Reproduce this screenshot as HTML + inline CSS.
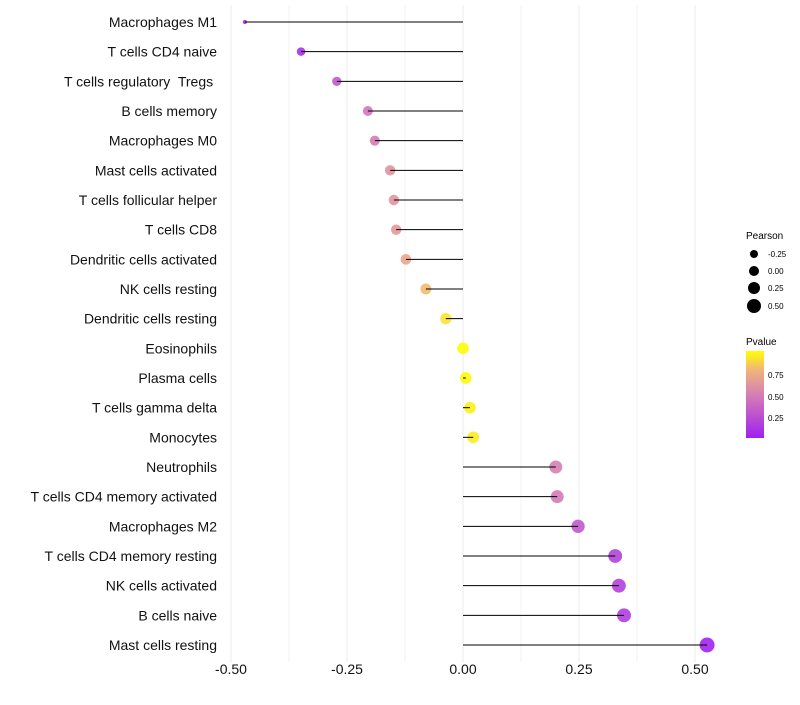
<!DOCTYPE html>
<html><head><meta charset="utf-8"><style>
body{margin:0;background:#fff;font-family:"Liberation Sans",sans-serif}
text{white-space:pre}
</style></head><body>
<svg id="chart" width="800" height="700" xmlns="http://www.w3.org/2000/svg" font-family="Liberation Sans, sans-serif">
<defs><linearGradient id="pg" x1="0" y1="1" x2="0" y2="0">
<stop offset="0" stop-color="#A020F0"/><stop offset="0.5" stop-color="#D67FB4"/><stop offset="0.78" stop-color="#F0B47C"/><stop offset="1" stop-color="#FFFF00"/></linearGradient></defs>
<g id="grid"></g><g id="marks"></g><g id="labels"></g>
<g>
<text x="746" y="239" font-size="10">Pearson</text>
<circle cx="754" cy="254" r="4"/><text x="768" y="257" font-size="8">-0.25</text>
<circle cx="754" cy="271" r="5"/><text x="768" y="274" font-size="8">0.00</text>
<circle cx="754" cy="288" r="6"/><text x="768" y="291" font-size="8">0.25</text>
<circle cx="754" cy="306" r="7"/><text x="768" y="309" font-size="8">0.50</text>
<text x="746" y="345" font-size="10">Pvalue</text>
<rect x="746" y="351" width="18" height="87" fill="url(#pg)"/>
<text x="768" y="378" font-size="8">0.75</text><text x="768" y="400" font-size="8">0.50</text><text x="768" y="421" font-size="8">0.25</text>
</g>
</svg>
<script>
const categories=["Macrophages M1","T cells CD4 naive","T cells regulatory  Tregs ","B cells memory","Macrophages M0","Mast cells activated","T cells follicular helper","T cells CD8","Dendritic cells activated","NK cells resting","Dendritic cells resting","Eosinophils","Plasma cells","T cells gamma delta","Monocytes","Neutrophils","T cells CD4 memory activated","Macrophages M2","T cells CD4 memory resting","NK cells activated","B cells naive","Mast cells resting"];
const pearson=[-0.47,-0.349,-0.272,-0.205,-0.19,-0.157,-0.149,-0.144,-0.123,-0.08,-0.037,0.0,0.006,0.015,0.022,0.2,0.203,0.248,0.328,0.336,0.347,0.526];
const pvalues=[0.02,0.08,0.3,0.45,0.48,0.6,0.62,0.63,0.7,0.8,0.92,0.99,0.98,0.96,0.94,0.5,0.48,0.3,0.18,0.17,0.15,0.02];
const xTicks=[-0.5,-0.25,0,0.25,0.5];
const xTickLabels=["-0.50","-0.25","0.00","0.25","0.50"];
const NS="http://www.w3.org/2000/svg";
const x=v=>463+v*464;
const y=i=>22+i*(623/21);
const rad=v=>v<-0.4?2:0.5+Math.sqrt(Math.max(3,28+40*v));
function col(p){const st=[[0,[160,32,240]],[0.5,[214,127,180]],[0.78,[240,180,124]],[1,[255,255,0]]];
for(let k=1;k<st.length;k++){if(p<=st[k][0]){const a=st[k-1],b=st[k],t=(p-a[0])/(b[0]-a[0]);return 'rgb('+a[1].map((c,j)=>Math.round(c+(b[1][j]-c)*t)).join(',')+')';}}return 'rgb(255,255,0)';}
function mk(t,a,p){const e=document.createElementNS(NS,t);for(const k in a)e.setAttribute(k,a[k]);p.appendChild(e);return e;}
const grid=document.getElementById('grid'),marks=document.getElementById('marks'),labels=document.getElementById('labels');
for(let v=-0.5;v<=0.5001;v+=0.125){const l=mk('line',{x1:x(v),x2:x(v),y1:5,y2:662,stroke:'#ebebeb','stroke-width':Math.abs((v*4)%1)<0.01?1:0.6},grid);

}
xTicks.forEach((v,i)=>{const t=mk('text',{x:x(v),y:674,'font-size':14,'text-anchor':'middle',fill:'#111'},labels);t.textContent=xTickLabels[i];

});
categories.forEach((c,i)=>{
const t=mk('text',{x:217,y:y(i)+5,'font-size':14,'text-anchor':'end',fill:'#111'},labels);t.textContent=c;


const d=mk('circle',{cx:x(pearson[i]),cy:y(i),r:rad(pearson[i]),fill:col(pvalues[i]),'fill-opacity':0.9},marks);


const l=mk('line',{x1:x(0),x2:x(pearson[i]),y1:y(i),y2:y(i),stroke:'#000','stroke-width':1},marks);


});
</script>
</body></html>
